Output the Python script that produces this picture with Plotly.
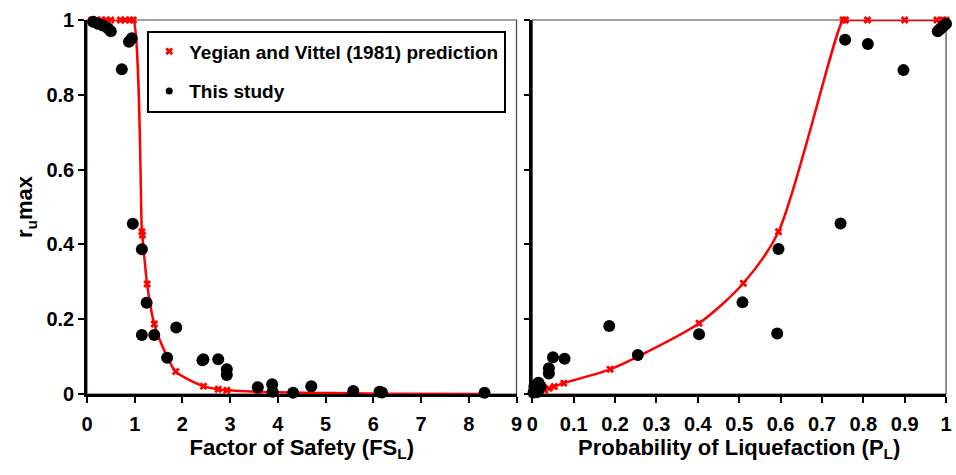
import plotly.graph_objects as go

# --- Data ---
# Yegian and Vittel (1981) prediction, left panel (Factor of Safety)
yv_fs = [0.1, 0.2, 0.3, 0.4, 0.5, 0.7, 0.8, 0.9, 0.97, 1.15, 1.16, 1.26, 1.41, 1.68,
         1.86, 2.44, 2.75, 2.93, 3.58, 3.89, 4.7, 5.58, 6.13, 8.3]
yv_fs_ru = [1, 1, 1, 1, 1, 1, 1, 1, 1, 0.434, 0.425, 0.294, 0.187, 0.1,
            0.06, 0.021, 0.0125, 0.01, 0.006, 0.005, 0.003, 0.002, 0.001, 0.0]
# Yegian and Vittel (1981) prediction, right panel (Probability of Liquefaction)
yv_pl = [0.0, 0.01, 0.02, 0.03, 0.04, 0.053, 0.076, 0.188, 0.255, 0.403, 0.51, 0.595,
         0.751, 0.757, 0.81, 0.90, 0.978, 0.993, 1.0]
yv_pl_ru = [0.0, 0.002, 0.005, 0.01, 0.015, 0.02, 0.029, 0.066, 0.1, 0.189, 0.296, 0.434,
            1, 1, 1, 1, 1, 1, 1]

# This study, left panel
st_fs = [0.13, 0.23, 0.33, 0.44, 0.5, 0.94, 0.88, 0.73, 0.96, 1.15, 1.25, 1.15, 1.41,
         1.87, 1.68, 2.42, 2.44, 2.75, 2.93, 2.93, 3.58, 3.88, 3.89, 4.32, 4.70, 5.58,
         6.13, 6.18, 8.33]
st_fs_ru = [0.995, 0.99, 0.985, 0.978, 0.97, 0.951, 0.942, 0.868, 0.455, 0.387, 0.244,
            0.158, 0.158, 0.178, 0.097, 0.09, 0.093, 0.093, 0.066, 0.051, 0.018, 0.026,
            0.006, 0.0035, 0.021, 0.008, 0.006, 0.004, 0.0035]
# This study, right panel
st_pl = [0.756, 0.811, 0.897, 0.98, 0.985, 0.99, 0.995, 1.0, 0.745, 0.595, 0.508, 0.403,
         0.592, 0.186, 0.255, 0.05, 0.078, 0.04, 0.04, 0.005, 0.01, 0.015, 0.008, 0.012,
         0.003, 0.02, 0.005, 0.015]
st_pl_ru = [0.947, 0.936, 0.866, 0.97, 0.975, 0.98, 0.985, 0.99, 0.456, 0.388, 0.245,
            0.16, 0.162, 0.182, 0.104, 0.098, 0.094, 0.069, 0.055, 0.02, 0.025, 0.03,
            0.01, 0.005, 0.004, 0.02, 0.008, 0.012]

y_ticks = [0, 0.2, 0.4, 0.6, 0.8, 1]
y_ticklabels = ["0", "0.2", "0.4", "0.6", "0.8", "1"]
fs_ticks = list(range(0, 10))
pl_ticks = [0, 0.1, 0.2, 0.3, 0.4, 0.5, 0.6, 0.7, 0.8, 0.9, 1]
pl_ticklabels = ["0", "0.1", "0.2", "0.3", "0.4", "0.5", "0.6", "0.7", "0.8", "0.9", "1"]

FONT = "Liberation Sans, Arial"
RED = "#ff0000"

fig = go.Figure()

line_style = dict(color=RED, width=2.5, shape="spline", smoothing=0.8)
mk_red = dict(symbol="x", color=RED, size=7)
mk_blk = dict(symbol="circle", color="black", size=12)

fig.add_trace(go.Scatter(x=yv_fs, y=yv_fs_ru, mode="lines+markers", line=line_style,
                         marker=mk_red, xaxis="x", yaxis="y", showlegend=False,
                         cliponaxis=False))
fig.add_trace(go.Scatter(x=yv_pl, y=yv_pl_ru, mode="lines+markers", line=line_style,
                         marker=mk_red, xaxis="x2", yaxis="y2", showlegend=False,
                         cliponaxis=False))
fig.add_trace(go.Scatter(x=st_fs, y=st_fs_ru, mode="markers", marker=mk_blk,
                         xaxis="x", yaxis="y", showlegend=False, cliponaxis=False))
fig.add_trace(go.Scatter(x=st_pl, y=st_pl_ru, mode="markers", marker=mk_blk,
                         xaxis="x2", yaxis="y2", showlegend=False, cliponaxis=False))
# legend entries
fig.add_trace(go.Scatter(x=[None], y=[None], mode="markers",
                         marker=dict(symbol="x", color=RED, size=7),
                         name="Yegian and Vittel (1981) prediction", legendgroup="a",
                         xaxis="x", yaxis="y"))
fig.add_trace(go.Scatter(x=[None], y=[None], mode="markers",
                         marker=dict(symbol="circle", color="black", size=7),
                         name="This study", legendgroup="b", xaxis="x", yaxis="y"))

dl = [82 / 956, 517 / 956]
dr = [533 / 956, 952 / 956]
tickfont = dict(family=FONT, size=20, color="black", weight="bold")
titlefont = dict(family=FONT, size=22, color="black", weight="bold")

common_x = dict(showgrid=False, zeroline=False, showline=True, linecolor="black",
                linewidth=2.5, ticks="outside", ticklen=6, tickwidth=1.5,
                tickcolor="black", tickfont=tickfont, ticklabelstandoff=4)
common_y = dict(showgrid=False, zeroline=False, showline=True, linecolor="black",
                linewidth=2.5, ticks="outside", ticklen=6, tickwidth=1.5,
                tickcolor="black", tickfont=tickfont, range=[0, 1],
                tickvals=y_ticks, ticktext=y_ticklabels)

fig.update_layout(
    width=956, height=475,
    margin=dict(l=0, r=0, t=20, b=81),
    paper_bgcolor="white", plot_bgcolor="white",
    font=dict(family=FONT, color="black"),
    xaxis=dict(domain=dl, range=[0, 9], tickvals=fs_ticks, anchor="y",
               title=dict(text="Factor of Safety (FS<sub>L</sub>)", font=titlefont,
                          standoff=3),
               **common_x),
    xaxis2=dict(domain=dr, range=[0, 1], tickvals=pl_ticks, ticktext=pl_ticklabels,
                anchor="y2",
                title=dict(text="Probability of Liquefaction (P<sub>L</sub>)",
                           font=titlefont, standoff=3),
                **common_x),
    yaxis=dict(domain=[0, 1], anchor="x",
               title=dict(text="r<sub>u</sub>max", font=titlefont, standoff=8),
               **common_y),
    yaxis2=dict(domain=[0, 1], anchor="x2", showticklabels=False, **common_y),
    # overlay axes providing the inner half of the crossing tick marks
    xaxis3=dict(overlaying="x", anchor="y", range=[0, 9], tickvals=fs_ticks,
                ticks="inside", ticklen=6, tickwidth=1.5, tickcolor="black",
                showticklabels=False, showgrid=False, zeroline=False, showline=False),
    xaxis4=dict(overlaying="x2", anchor="y2", range=[0, 1], tickvals=pl_ticks,
                ticks="inside", ticklen=6, tickwidth=1.5, tickcolor="black",
                showticklabels=False, showgrid=False, zeroline=False, showline=False),
    yaxis3=dict(overlaying="y", anchor="x", range=[0, 1], tickvals=y_ticks,
                ticks="inside", ticklen=6, tickwidth=1.5, tickcolor="black",
                showticklabels=False, showgrid=False, zeroline=False, showline=False),
    yaxis4=dict(overlaying="y2", anchor="x2", range=[0, 1], tickvals=y_ticks,
                ticks="inside", ticklen=6, tickwidth=1.5, tickcolor="black",
                showticklabels=False, showgrid=False, zeroline=False, showline=False),
    legend=dict(x=143 / 956, y=1 - 10.5 / 374, xanchor="left", yanchor="top",
                bordercolor="black", borderwidth=2, bgcolor="white",
                font=dict(family=FONT, size=19, color="black", weight="bold"),
                tracegroupgap=12, itemwidth=30),
    shapes=[
        dict(type="rect", xref="x domain", yref="y domain", x0=0, x1=1, y0=0, y1=1,
             line=dict(color="#444444", width=1.2), layer="below"),
        dict(type="rect", xref="x2 domain", yref="y2 domain", x0=0, x1=1, y0=0, y1=1,
             line=dict(color="#444444", width=1.2), layer="below"),
    ],
)

fig.write_html("out.html")
